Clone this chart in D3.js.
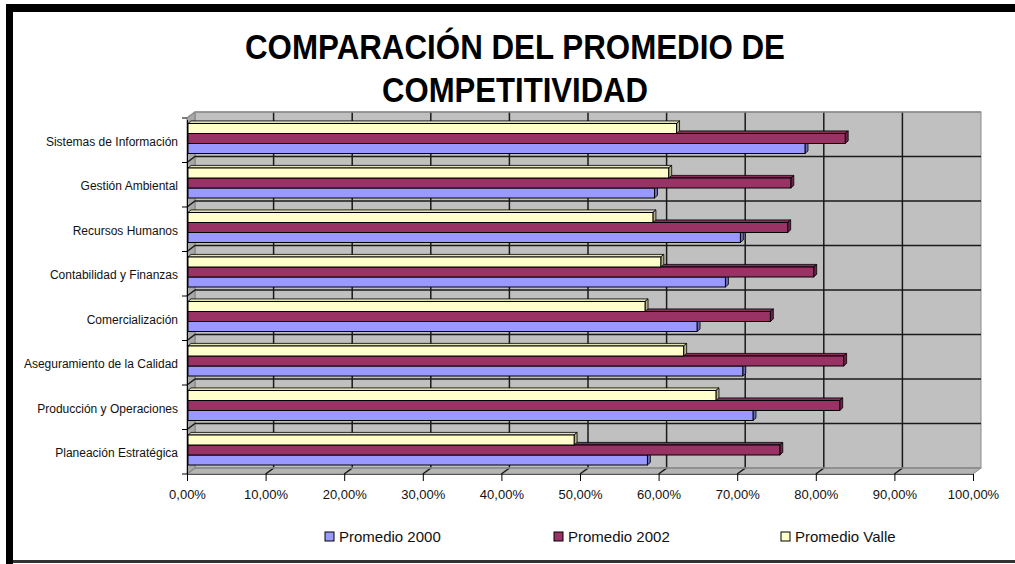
<!DOCTYPE html>
<html>
<head>
<meta charset="utf-8">
<script src="https://cdn.jsdelivr.net/npm/d3@7"></script>
<style>
  body { margin: 0; background: #fff; }
  svg { display: block; font-family: 'Liberation Sans', Arial, sans-serif; }
</style>
</head>
<body>
<svg id="chart" width="1015" height="564"></svg>
<script>
const categories = [
  'Sistemas de Información',
  'Gestión Ambiental',
  'Recursos Humanos',
  'Contabilidad y Finanzas',
  'Comercialización',
  'Aseguramiento de la Calidad',
  'Producción y Operaciones',
  'Planeación Estratégica',
]
const promedio2000 = [0.783, 0.592, 0.701, 0.682, 0.646, 0.704, 0.717, 0.583]
const promedio2002 = [0.834, 0.765, 0.761, 0.794, 0.739, 0.832, 0.827, 0.751]
const promedioValle = [0.62, 0.61, 0.59, 0.6, 0.58, 0.629, 0.67, 0.49]
const seriesNames = ['Promedio 2000', 'Promedio 2002', 'Promedio Valle']
const xTickValues = [0, 0.1, 0.2, 0.3, 0.4, 0.5, 0.6, 0.7, 0.8, 0.9, 1]
const titleLines = ['COMPARACIÓN DEL PROMEDIO DE', 'COMPETITIVIDAD']

const colors = ['#9999ff', '#993366', '#ffffcc']

const locale = d3.formatLocale({ decimal: ',', thousands: '.', grouping: [3], currency: ['', '€'] })
const pct = locale.format('.2%')

const getConfig = () => {
  const svg = d3.select('#chart')
  // back wall and how far the front plane is shifted from it
  const wall = { left: 195, right: 981, top: 112, bottom: 468 }
  const depth = { dx: -8, dy: 6 }
  const bar = { offset: 11.5, height: 10, dx: 3, dy: -2.6 }
  return { svg, wall, depth, bar }
}

const getScales = (config) => {
  const { wall, depth } = config
  const xBack = d3.scaleLinear().domain([0, 1]).range([wall.left, wall.right])
  const xFront = d3.scaleLinear().domain([0, 1]).range([wall.left + depth.dx, wall.right + depth.dx])
  const xBar = d3.scaleLinear().domain([0, 1]).range([188, 976])
  const yBack = d3.scaleBand().domain(categories).range([wall.top, wall.bottom])
  const yFront = d3.scaleBand().domain(categories).range([wall.top + depth.dy, wall.bottom + depth.dy])
  return { xBack, xFront, xBar, yBack, yFront }
}

const drawFrame = (config) => {
  const { svg } = config
  svg.append('rect').attr('x', 6).attr('y', 4).attr('width', 1009).attr('height', 8).attr('fill', '#000')
  svg.append('rect').attr('x', 6).attr('y', 4).attr('width', 7).attr('height', 560).attr('fill', '#000')
  svg.append('rect').attr('x', 13).attr('y', 560).attr('width', 1002).attr('height', 3).attr('fill', '#333')
}

const drawTitle = (config) => {
  const { svg } = config
  const widths = [540, 266]
  svg.append('g')
    .selectAll('text')
    .data(titleLines)
    .enter()
    .append('text')
    .attr('x', 515)
    .attr('y', (d, i) => 59 + i * 43)
    .attr('text-anchor', 'middle')
    .attr('font-size', 35)
    .attr('font-weight', 'bold')
    .attr('textLength', (d, i) => widths[i])
    .attr('lengthAdjust', 'spacingAndGlyphs')
    .text((d) => d)
}

const drawWalls = (scales, config) => {
  const { svg, wall, depth } = config
  const { xBack, xFront, yBack } = scales
  const g = svg.append('g')
  const pts = (arr) => arr.map((p) => p.join(',')).join(' ')

  // back wall
  g.append('rect')
    .attr('x', wall.left).attr('y', wall.top)
    .attr('width', wall.right - wall.left).attr('height', wall.bottom - wall.top)
    .attr('fill', '#c0c0c0').attr('stroke', '#8c8c8c')
  // left wall
  g.append('polygon')
    .attr('points', pts([[wall.left, wall.top], [wall.left, wall.bottom],
      [wall.left + depth.dx, wall.bottom + depth.dy], [wall.left + depth.dx, wall.top + depth.dy]]))
    .attr('fill', '#a8a8a8').attr('stroke', '#808080')
  // floor
  g.append('polygon')
    .attr('points', pts([[wall.left, wall.bottom], [wall.right, wall.bottom],
      [wall.right + depth.dx, wall.bottom + depth.dy], [wall.left + depth.dx, wall.bottom + depth.dy]]))
    .attr('fill', '#b4b4b4').attr('stroke', '#8c8c8c')

  // vertical gridlines, back wall then across the floor
  g.selectAll('.vgrid')
    .data(xTickValues.slice(1, -1))
    .enter()
    .append('polyline')
    .attr('fill', 'none')
    .attr('stroke', '#1a1a1a')
    .attr('stroke-width', 1.5)
    .attr('points', (d) => pts([[xBack(d), wall.top], [xBack(d), wall.bottom], [xFront(d), wall.bottom + depth.dy]]))

  // horizontal gridlines at the category boundaries, back wall then across the left wall
  const bounds = categories.map((c) => yBack(c)).concat([wall.bottom])
  g.selectAll('.hgrid')
    .data(bounds)
    .enter()
    .append('polyline')
    .attr('fill', 'none')
    .attr('stroke', (d, i) => (i === 0 || i === bounds.length - 1 ? '#8c8c8c' : '#1a1a1a'))
    .attr('stroke-width', 1.5)
    .attr('points', (d) => pts([[wall.right, d], [wall.left, d], [wall.left + depth.dx, d + depth.dy]]))

  // category tick marks on the front edge
  g.selectAll('.ytick')
    .data(bounds)
    .enter()
    .append('line')
    .attr('x1', wall.left + depth.dx - 5).attr('x2', wall.left + depth.dx)
    .attr('y1', (d) => d + depth.dy).attr('y2', (d) => d + depth.dy)
    .attr('stroke', '#000')
}

const drawBars = (scales, config) => {
  const { svg, bar } = config
  const { xBar, yBack } = scales
  const series = [promedio2000, promedio2002, promedioValle]
  const pts = (arr) => arr.map((p) => p.join(',')).join(' ')
  const rows = []
  categories.forEach((c, ci) => {
    // bottom bar first so the bar above covers its top face
    series.forEach((vals, si) => {
      rows.push({ cat: c, s: si, v: vals[ci], slot: 2 - si })
    })
  })
  const g = svg.append('g')
  const bars = g.selectAll('g.bar').data(rows).enter().append('g').attr('class', 'bar')
  const x0 = xBar(0)
  const yTop = (d) => yBack(d.cat) + bar.offset + d.slot * bar.height
  bars.append('polygon')
    .attr('points', (d) => {
      const y = yTop(d), x1 = xBar(d.v)
      return pts([[x0, y], [x0 + bar.dx, y + bar.dy], [x1 + bar.dx, y + bar.dy], [x1, y]])
    })
    .attr('fill', (d) => d3.color(colors[d.s]).darker(0.35))
    .attr('stroke', '#000').attr('stroke-width', 0.8)
  bars.append('polygon')
    .attr('points', (d) => {
      const y = yTop(d), x1 = xBar(d.v)
      return pts([[x1, y], [x1 + bar.dx, y + bar.dy], [x1 + bar.dx, y + bar.dy + bar.height], [x1, y + bar.height]])
    })
    .attr('fill', (d) => d3.color(colors[d.s]).darker(1))
    .attr('stroke', '#000').attr('stroke-width', 0.8)
  bars.append('rect')
    .attr('x', x0)
    .attr('y', yTop)
    .attr('width', (d) => xBar(d.v) - x0)
    .attr('height', bar.height)
    .attr('fill', (d) => colors[d.s])
    .attr('stroke', '#000').attr('stroke-width', 1)
}

const drawAxes = (scales, config) => {
  const { svg, wall, depth } = config
  const { xFront, yFront } = scales
  const axisX = d3.axisBottom(xFront).tickValues(xTickValues).tickFormat(pct).tickSize(7).tickSizeOuter(0).tickPadding(9)
  svg.append('g')
    .attr('transform', `translate(0,${wall.bottom + depth.dy})`)
    .call(axisX)
    .call((g) => g.selectAll('text').attr('font-size', 13).attr('font-family', "'Liberation Sans', Arial, sans-serif").attr('fill', '#111'))
    .call((g) => g.select('.domain').attr('stroke', '#555'))

  const axisY = d3.axisLeft(yFront).tickSize(0).tickPadding(9)
  svg.append('g')
    .attr('transform', `translate(${wall.left + depth.dx},1.5)`)
    .call(axisY)
    .call((g) => g.select('.domain').attr('stroke', '#000'))
    .call((g) => g.selectAll('text').attr('font-size', 12).attr('font-family', "'Liberation Sans', Arial, sans-serif").attr('fill', '#111'))
}

const drawLegend = (config) => {
  const { svg } = config
  const xs = [325, 554, 781]
  const g = svg.append('g').selectAll('g').data(seriesNames).enter().append('g')
    .attr('transform', (d, i) => `translate(${xs[i]},532)`)
  g.append('rect').attr('width', 9).attr('height', 9)
    .attr('fill', (d, i) => colors[i]).attr('stroke', '#000')
  g.append('text').attr('x', 14).attr('y', 10).attr('font-size', 15).attr('fill', '#111').text((d) => d)
}

const config = getConfig()
const scales = getScales(config)
drawFrame(config)
drawTitle(config)
drawWalls(scales, config)
drawBars(scales, config)
drawAxes(scales, config)
drawLegend(config)
</script>
</body>
</html>
